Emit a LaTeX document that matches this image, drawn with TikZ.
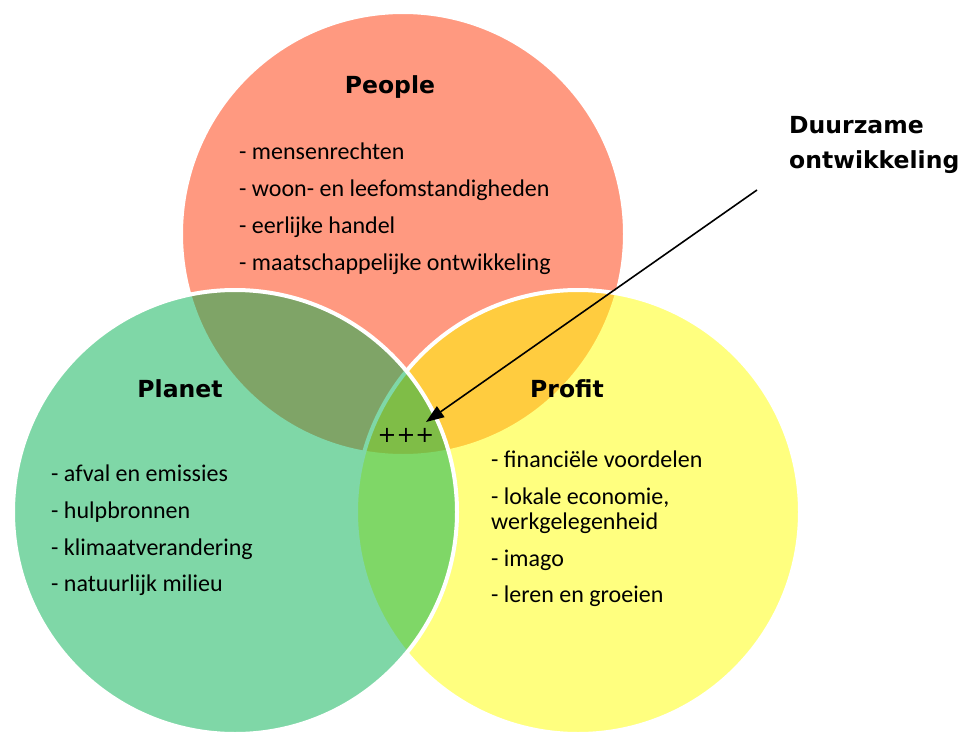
\documentclass[tikz,border=0pt]{standalone}
\usepackage{fontspec}
\setmainfont{Carlito}
\newfontfamily\headfont{DejaVu Sans}
\usetikzlibrary{arrows.meta}
\definecolor{peop}{RGB}{255,153,128}
\definecolor{plan}{RGB}{0,176,80}
\definecolor{prof}{RGB}{255,255,0}

\begin{document}
\begin{tikzpicture}[x=1pt,y=-1pt,
        ring/.style={draw=white,line width=4pt},
        item/.style={anchor=base west,inner sep=0pt,font=\fontsize{24}{28}\selectfont},
        head/.style={anchor=base,inner sep=0pt,font=\headfont\bfseries\fontsize{23.5}{28}\selectfont}]
        \useasboundingbox (0,0) rectangle (963,733);
        \def\r{222pt}
        \coordinate (cpeople) at (403,234);
        \coordinate (cplanet) at (235,512);
        \coordinate (cprofit) at (578,512);
        % the three circles
        \draw[ring,fill=peop] (cpeople) circle[radius=\r];
        \draw[ring,fill=prof,fill opacity=.5] (cprofit) circle[radius=\r];
        \draw[ring,fill=plan,fill opacity=.5] (cplanet) circle[radius=\r];
        % titles
        \node[head] (people) at (390,94) {People};
        \node[head] (planet) at (180,397) {Planet};
        \node[head] (profit) at (567,397) {Profit};
        % lists
        \node[item] (pe1) at (239,159) {- mensenrechten};
        \node[item] (pe2) at (239,196) {- woon- en leefomstandigheden};
        \node[item] (pe3) at (239,233) {- eerlijke handel};
        \node[item] (pe4) at (239,270) {- maatschappelijke ontwikkeling};
        \node[item] (pl1) at (51,481) {- afval en emissies};
        \node[item] (pl2) at (51,518) {- hulpbronnen};
        \node[item] (pl3) at (51,555) {- klimaatverandering};
        \node[item] (pl4) at (51,591) {- natuurlijk milieu};
        \node[item] (pr1) at (491,467) {- financiële voordelen};
        \node[item] (pr2) at (491,504) {- lokale economie,};
        \node[item] (pr2b) at (491,529) {werkgelegenheid};
        \node[item] (pr3) at (491,566) {- imago};
        \node[item] (pr4) at (491,602) {- leren en groeien};
        % centre and label
        \node[inner sep=0pt,font=\headfont\fontsize{22.5}{24}\selectfont] (core) at (406,435) {+++};
        \node[head,anchor=base west] (duur) at (789,133) {Duurzame};
        \node[head,anchor=base west] (ontw) at (789,168) {ontwikkeling};
        \coordinate (tail) at (757,190);
        \coordinate (tip) at (426,422);
        \draw[line width=1.6pt,-{Triangle[length=18pt,width=13pt]}] (tail) -- (tip);
\end{tikzpicture}
\end{document}
